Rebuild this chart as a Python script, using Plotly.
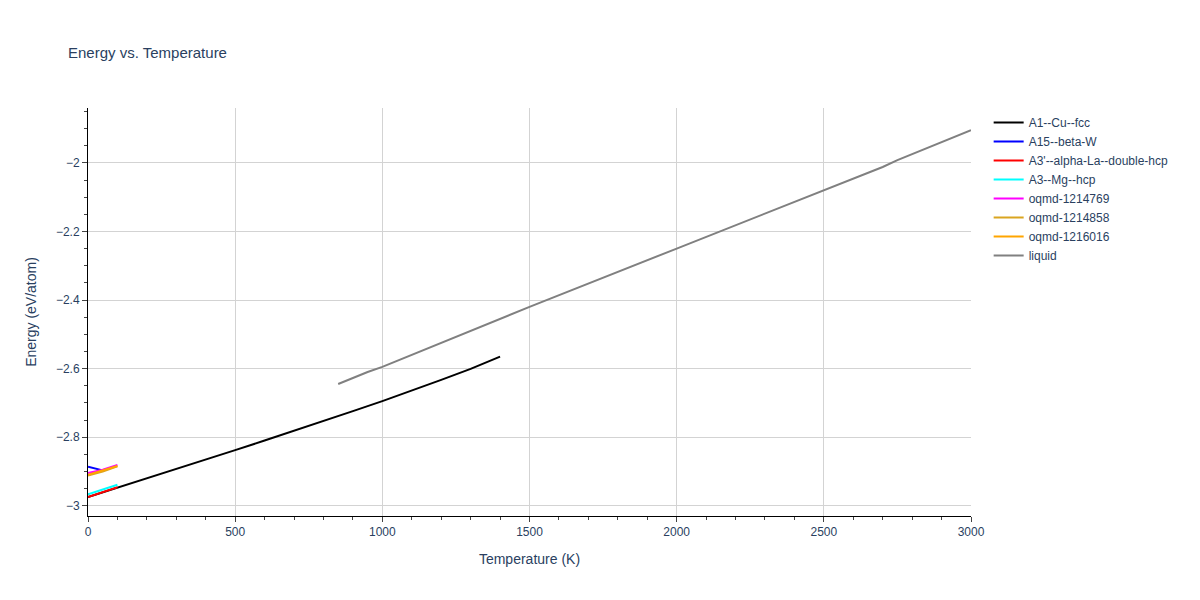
import plotly.graph_objs as go

T_fcc = [0, 100, 200, 300, 400, 500, 600, 700, 800, 900, 1000, 1100, 1200, 1300, 1350, 1400]
E_fcc = [-2.975, -2.948, -2.920, -2.893, -2.866, -2.838, -2.810, -2.782, -2.753, -2.724, -2.695, -2.665, -2.633, -2.601, -2.584, -2.565]
T_a15 = [0, 50]
E_a15 = [-2.886, -2.897]
T_dhcp = [0, 50, 100]
E_dhcp = [-2.975, -2.961, -2.946]
T_hcp = [0, 50, 100]
E_hcp = [-2.967, -2.953, -2.939]
T_q1 = [0, 50, 100]
E_q1 = [-2.905, -2.895, -2.881]
T_q2 = [0, 50, 100]
E_q2 = [-2.912, -2.900, -2.885]
T_q3 = [0, 50, 100]
E_q3 = [-2.910, -2.898, -2.884]
T_liq = [850, 950, 1000, 1500, 2000, 2500, 2700, 2750, 3000]
E_liq = [-2.645, -2.610, -2.595, -2.420, -2.250, -2.080, -2.012, -1.992, -1.905]

series = [
    ('A1--Cu--fcc', T_fcc, E_fcc, 'black'),
    ('A15--beta-W', T_a15, E_a15, 'blue'),
    ("A3'--alpha-La--double-hcp", T_dhcp, E_dhcp, 'red'),
    ('A3--Mg--hcp', T_hcp, E_hcp, 'cyan'),
    ('oqmd-1214769', T_q1, E_q1, 'magenta'),
    ('oqmd-1214858', T_q2, E_q2, 'goldenrod'),
    ('oqmd-1216016', T_q3, E_q3, 'orange'),
    ('liquid', T_liq, E_liq, 'gray'),
]

data = [go.Scatter(x=t, y=e, name=n, mode='lines', line=dict(color=c, width=2))
        for n, t, e, c in series]

layout = go.Layout(
    title=dict(text='Energy vs. Temperature', font=dict(size=15), x=0.05),
    width=1200, height=600,
    font=dict(family='Liberation Sans, Arial, sans-serif'),
    margin=dict(l=80, r=237, t=100, b=92),
    plot_bgcolor='white',
    xaxis=dict(title='Temperature (K)', range=[0, 3000], gridcolor='lightgray',
               showline=True, linecolor='black', ticks='outside', minor=dict(ticks='outside')),
    yaxis=dict(title='Energy (eV/atom)', range=[-3.03, -1.84], gridcolor='lightgray',
               showline=True, linecolor='black', ticks='outside', minor=dict(ticks='outside'),
               zeroline=False),
)

fig = go.Figure(data=data, layout=layout)
fig.write_html('out.html')
